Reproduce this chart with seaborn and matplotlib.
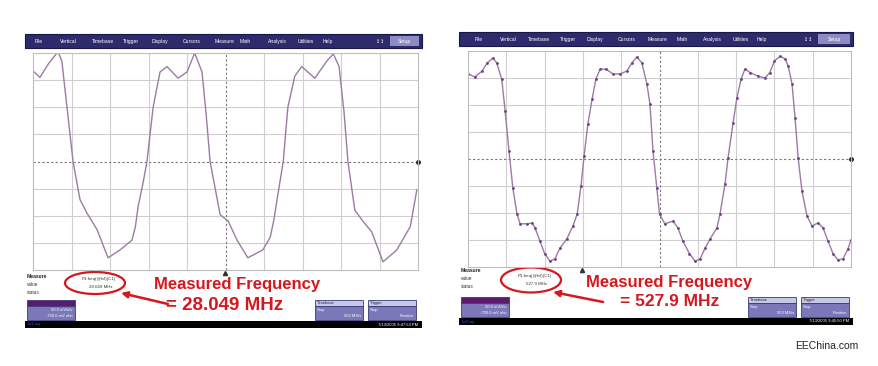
import numpy as np
import pandas as pd
import seaborn as sns
import matplotlib.pyplot as plt
from matplotlib.patches import Rectangle, Ellipse, FancyArrowPatch

# waveform samples (x in divisions, y in divisions)
left_x = [0, 0.18, 0.4, 0.65, 0.75, 0.83, 0.93, 1.04, 1.22, 1.4, 1.66, 1.95,
          2.26, 2.57, 2.66, 2.73, 2.85, 2.96, 3.12, 3.3, 3.48, 3.77, 4.0, 4.2,
          4.39, 4.5, 4.6, 4.86, 5.07, 5.3, 5.58, 5.97, 6.16, 6.25, 6.34, 6.5,
          6.62, 6.8, 6.98, 7.32, 7.63, 7.8, 7.95, 8.08, 8.18, 8.36, 8.57,
          8.8, 9.09, 9.45, 9.8, 9.97]
left_y = [3.34, 3.1, 3.6, 4.05, 3.7, 2.67, 1.4, 0, -1.4, -1.9, -2.5, -3.55,
          -3.26, -2.9, -2.4, -1.66, -0.85, 0, 2.0, 3.3, 3.5, 3.07, 3.3, 4.0,
          3.3, 1.7, 0, -1.96, -2.2, -2.9, -3.55, -3.26, -2.8, -2.2, -1.4, 0,
          2.0, 3.15, 3.5, 3.07, 3.7, 3.97, 3.5, 1.8, 0, -1.8, -2.2,
          -2.6, -3.7, -3.26, -2.4, -1.04]

right_x = [0, 0.18, 0.37, 0.5, 0.65, 0.75, 0.88, 0.97, 1.07, 1.17,
           1.28, 1.36, 1.54, 1.67, 1.75, 1.88, 2.0, 2.14, 2.27, 2.4,
           2.58, 2.74, 2.85, 2.95, 3.03, 3.13, 3.24, 3.34, 3.45, 3.6,
           3.79, 3.97, 4.15, 4.28, 4.41, 4.54, 4.67, 4.75, 4.83, 4.93,
           5.0, 5.14, 5.35, 5.48, 5.61, 5.78, 5.93, 6.06, 6.19, 6.32,
           6.5, 6.58, 6.71, 6.79, 6.92, 7.02, 7.13, 7.23, 7.37, 7.57,
           7.75, 7.88, 8.0, 8.15, 8.28, 8.36, 8.46, 8.54, 8.62, 8.72,
           8.85, 8.98, 9.14, 9.27, 9.4, 9.53, 9.66, 9.79, 9.92, 10.0]
right_y = [3.15, 3.04, 3.26, 3.56, 3.74, 3.56, 2.96, 1.78, 0.3, -1.07,
           -2.04, -2.4, -2.4, -2.37, -2.55, -3.04, -3.5, -3.78, -3.7, -3.3,
           -2.96, -2.48, -2.04, -1.0, 0.1, 1.3, 2.22, 2.96, 3.33, 3.33,
           3.15, 3.15, 3.26, 3.56, 3.78, 3.56, 2.78, 2.04, 0.3, -1.07,
           -2.04, -2.4, -2.3, -2.55, -3.04, -3.5, -3.78, -3.7, -3.3, -2.96,
           -2.55, -2.04, -0.93, 0.04, 1.33, 2.26, 2.96, 3.33, 3.2, 3.07,
           3.0, 3.2, 3.63, 3.81, 3.7, 3.44, 2.78, 1.52, 0.04, -1.19,
           -2.1, -2.48, -2.37, -2.55, -3.04, -3.5, -3.74, -3.7, -3.33, -3.0]

menu_items = ['File', 'Vertical', 'Timebase', 'Trigger', 'Display', 'Cursors',
              'Measure', 'Math', 'Analysis', 'Utilities', 'Help']
freq_title = 'Measured Frequency'
freq_values = ['= 28.049 MHz', '= 527.9 MHz']
meas_values = ['28.049 MHz', '527.9 MHz']
timestamps = ['7/13/2005 9:47:53 PM', '7/13/2005 9:45:50 PM']

W, H = 879, 366
sns.set_theme(style='white')
plt.rcParams['font.family'] = ['Liberation Sans', 'DejaVu Sans']

fig = plt.figure(figsize=(W / 100, H / 100), dpi=100)
bg = fig.add_axes([0, 0, 1, 1])
bg.set_xlim(0, W)
bg.set_ylim(H, 0)
bg.axis('off')

RED = '#d5171e'
NAVY = '#2d2b6c'
TRACE = '#9b7ba3'


def screen(x0, y0, x1, plot_box, menu_x, setup_x, mx, trig_x, txt, ell, arrow, boxes, bar_y, k):
    # menu bar
    bg.add_patch(Rectangle((x0, y0), x1 - x0, 14, fc=NAVY, ec='#19174a', lw=0.8))
    for name, px in zip(menu_items, menu_x):
        bg.text(px, y0 + 7.5, name, color='white', fontsize=3.6, ha='left', va='center')
    bg.text(setup_x - 10, y0 + 7.5, '\u2195\u2195', color='white', fontsize=3.5, ha='center', va='center',
            family=['DejaVu Sans'])
    bg.add_patch(Rectangle((setup_x, y0 + 2), x1 - setup_x - 3, 10, fc='#8d8bc4', ec='none'))
    bg.text(setup_x + (x1 - setup_x - 3) / 2, y0 + 7.5, 'Setup', color='white', fontsize=3.6,
            ha='center', va='center')
    # measurement labels
    px0, py0, px1, py1 = plot_box
    bg.text(x0 + 2, mx, 'Measure', fontsize=3.6, weight='bold', color='#222222', va='center')
    bg.text(x0 + 2, mx + 8, 'value', fontsize=3.4, color='#333333', va='center')
    bg.text(x0 + 2, mx + 16, 'status', fontsize=3.4, color='#333333', va='center')
    bg.text(ell[0] + 4, ell[1] - 4, 'P1:freq(@lvl)(C1)', fontsize=3.2, color='#333333', ha='center', va='center')
    bg.text(ell[0] + 6, ell[1] + 4, meas_values[k], fontsize=3.2, color='#333333', ha='center', va='center')
    bg.add_patch(Ellipse((ell[0], ell[1]), ell[2], ell[3], fc='none', ec=RED, lw=1.6))
    bg.add_patch(FancyArrowPatch(arrow[0], arrow[1], arrowstyle='-|>', mutation_scale=9,
                                 color=RED, lw=1.8, shrinkA=0, shrinkB=0))
    bg.text(txt[0], txt[1], freq_title, color=RED, fontsize=12, weight='bold',
            ha='center', va='center')
    bg.text(txt[2], txt[3], freq_values[k], color=RED, fontsize=txt[4], weight='bold',
            ha='center', va='center')
    # channel box and timebase / trigger boxes
    cx, cy = x0 + 2, boxes[0]
    bg.add_patch(Rectangle((cx, cy), 48, 6, fc='#5b1a6e', ec='#3a3a7a', lw=0.6))
    bg.add_patch(Rectangle((cx, cy + 6), 48, 14, fc='#7a78b8', ec='#3a3a7a', lw=0.6))
    bg.text(cx + 46, cy + 10, '50.0 mV/div', fontsize=3, color='white', ha='right', va='center')
    bg.text(cx + 46, cy + 16, '-700.0 mV ofst', fontsize=3, color='white', ha='right', va='center')
    for bx, title, l1, l2 in [(boxes[1], 'Timebase', 'Stop', '500 MS/s'), (boxes[2], 'Trigger', 'Stop', 'Positive')]:
        bg.add_patch(Rectangle((bx, cy), 48, 6, fc='#c9c8e4', ec='#3a3a7a', lw=0.6))
        bg.add_patch(Rectangle((bx, cy + 6), 48, 14, fc='#7a78b8', ec='#3a3a7a', lw=0.6))
        bg.text(bx + 2, cy + 3, title, fontsize=3, color='#222244', va='center')
        bg.text(bx + 2, cy + 10, l1, fontsize=3, color='white', va='center')
        bg.text(bx + 46, cy + 16, l2, fontsize=3, color='white', ha='right', va='center')
    # status bar
    bg.add_patch(Rectangle((x0, bar_y), x1 - x0, 7, fc='black', ec='none'))
    bg.text(x0 + 3, bar_y + 3.5, 'LeCroy', fontsize=3, color='#3a5fd0', va='center')
    bg.text(x1 - 4, bar_y + 3.5, timestamps[k], fontsize=3, color='white', ha='right', va='center')
    # trigger marker under the grid
    bg.plot([trig_x], [py1 + 3], marker='^', ms=3, color='#333333')
    bg.text(px0 + 1, py0 + 3, '1', fontsize=3.5, color='#555555', va='center')


screen(25, 34, 422, (33, 53, 418, 270),
       [35, 60, 92, 123, 152, 183, 215, 240, 268, 298, 323], 390, 277, 225,
       (237, 285, 225, 305, 13.5), (95, 283, 60, 22), ((168, 304), (121, 293)), (300, 315, 368), 321, 0)
screen(459, 32, 853, (468, 51, 851, 267),
       [475, 500, 528, 560, 587, 618, 648, 677, 703, 733, 757], 818, 271, 582,
       (669, 282, 670, 302, 12.5), (531, 280, 60, 25), ((603, 302), (553, 292)), (297, 748, 801), 318, 1)


def scope_axes(box, xs, ys, dots):
    x0, y0, x1, y1 = box
    ax = fig.add_axes([x0 / W, 1 - y1 / H, (x1 - x0) / W, (y1 - y0) / H])
    ax.set_facecolor('white')
    for v in range(1, 10):
        if v != 5:
            ax.axvline(v, color='#cfcfcf', lw=0.8, zorder=0)
    for v in range(-3, 4):
        if v != 0:
            ax.axhline(v, color='#cfcfcf', lw=0.8, zorder=0)
    ax.axvline(5, color='#777777', lw=0.8, ls=(0, (2, 2)), zorder=0)
    ax.axhline(0, color='#777777', lw=0.8, ls=(0, (2, 2)), zorder=0)
    df = pd.DataFrame({'t': xs, 'v': ys})
    sns.lineplot(data=df, x='t', y='v', ax=ax, sort=False, estimator=None,
                 color=TRACE, lw=1.0, marker='o' if dots else None,
                 markersize=2 if dots else 0, markeredgewidth=0,
                 markerfacecolor='#6e3f82')
    ax.plot([10], [0], marker='o', ms=2.5, color='#222222', clip_on=False)
    ax.set_xlim(0, 10)
    ax.set_ylim(-4, 4)
    ax.set_xticks([])
    ax.set_yticks([])
    ax.set_xlabel('')
    ax.set_ylabel('')
    for s in ax.spines.values():
        s.set_color('#bdbdbd')
        s.set_linewidth(0.8)
    return ax


scope_axes((33, 53, 418, 270), left_x, left_y, False)
scope_axes((468, 51, 851, 267), right_x, right_y, True)

bg.text(827, 346, 'EEChina.com', fontsize=7.5, color='#222222', ha='center', va='center')

fig.savefig('out.png', dpi=100)
